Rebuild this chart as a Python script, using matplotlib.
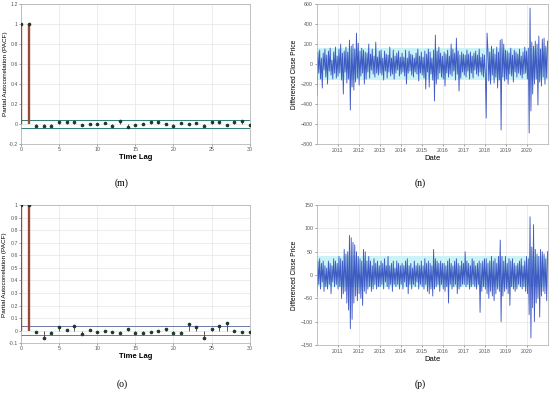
import numpy as np
import pandas as pd
import matplotlib
matplotlib.use('Agg')
import matplotlib.pyplot as plt

# PACF values, lags 0..30
lags = list(range(31))
pacf_m = [1.0, 1.0, -0.02, -0.02, -0.015, 0.02, 0.02, 0.02, -0.01, 0.005, 0.005,
          0.01, -0.02, 0.03, -0.03, -0.005, 0.005, 0.025, 0.02, 0.005, -0.015,
          0.015, 0.005, 0.01, -0.02, 0.02, 0.025, -0.005, 0.02, 0.03, -0.01]
pacf_o = [1.0, 1.0, -0.01, -0.06, -0.02, 0.03, 0.005, 0.035, -0.03, 0.005, -0.01,
          0.0, -0.01, -0.02, 0.015, -0.02, -0.02, -0.01, -0.005, 0.015, -0.015,
          -0.015, 0.055, 0.03, -0.055, 0.01, 0.035, 0.06, -0.005, -0.01, -0.01]
bound_m = 0.042
bound_o = 0.038

# differenced close price, 24 samples per year 2010..2020
diff_n = [
    -320, 120, -90, 140, -150, 60, -240, 110, -60, 150, -130, 90, -200, 130, -70, 160, -110, 40, -150, 120, -90, 170, -140, 80,
    -120, 150, -90, 200, -160, 110, -300, 130, -80, 170, -190, 120, -150, 240, -460, 180, -230, 200, -260, 150, -180, 310, -140, 210,
    -210, 130, -120, 160, -90, 140, -200, 120, -150, 110, -80, 200, -140, 100, -60, 150, -100, 80, -130, 220, -90, 70, -110, 130,
    -90, 140, -110, 60, -160, 130, -70, 100, -140, 90, -80, 170, -120, 60, -100, 140, -150, 80, -90, 110, -60, 130, -120, 70,
    -100, 110, -80, 70, -120, 140, -200, 60, -90, 130, -70, 100, -110, 90, -130, 60, -80, 110, -100, 150, -170, 80, -90, 120,
    -110, 70, -140, 130, -250, 100, -80, 150, -230, 120, -100, 60, -160, 140, -370, 290, -200, 130, -150, 170, -90, 110, -130, 80,
    -150, 120, -220, 100, -90, 140, -130, 80, -100, 200, -120, 150, -70, 110, -160, 260, -100, 130, -270, 90, -140, 120, -80, 100,
    -110, 90, -130, 140, -70, 100, -150, 120, -90, 80, -140, 110, -60, 130, -100, 90, -120, 150, -80, 70, -110, 100, -130, 90,
    -90, -540, 310, 140, -170, 120, -200, 180, -110, 150, -190, 100, -130, 170, -240, 120, -160, 240, -660, 250, -130, 200, -170, 140,
    -150, 130, -200, 110, -100, 160, -120, 90, -180, 140, -80, 120, -130, 100, -90, 150, -110, 80, -140, 120, -100, 170, -90, 130,
    -150, 160, -690, 560, -470, 220, -300, 180, -200, 230, -150, 200, -410, 280, -180, 150, -220, 250, -130, 260, -200, 180, -140, 230,
]
diff_p = [
    -45, 30, -20, 35, -30, 25, -15, 30, -35, 20, -25, 15, -30, 30, -20, 25, -40, 20, -15, 35, -25, 30, -20, 25,
    -30, 40, -25, 35, -50, 30, -40, 55, -35, 45, -60, 50, -75, 85, -115, 80, -95, 70, -60, 65, -45, 50, -55, 40,
    -40, 35, -50, 30, -65, 55, -35, 50, -40, 30, -30, 40, -25, 30, -35, 20, -30, 35, -20, 25, -30, 30, -25, 20,
    -25, 30, -20, 25, -30, 35, -15, 20, -25, 40, -30, 20, -20, 25, -35, 30, -20, 15, -25, 30, -20, 25, -30, 20,
    -20, 25, -30, 20, -15, 30, -25, 35, -40, 20, -20, 25, -30, 15, -20, 30, -25, 20, -15, 25, -30, 20, -20, 30,
    -25, 20, -30, 35, -20, 25, -35, 30, -40, 25, -30, 20, -45, 55, -30, 35, -25, 30, -20, 25, -35, 30, -20, 25,
    -30, 25, -35, 20, -25, 30, -60, 35, -20, 25, -30, 20, -25, 30, -20, 35, -40, 25, -30, 20, -25, 30, -20, 25,
    -20, 50, -25, 30, -20, 25, -30, 20, -25, 35, -20, 30, -25, 20, -30, 25, -20, 30, -80, 25, -35, 30, -25, 35,
    -30, 35, -40, 25, -50, 30, -35, 40, -45, 30, -55, 35, -40, 25, -30, 40, -35, 75, -100, 40, -45, 30, -35, 40,
    -30, 25, -40, 35, -65, 30, -25, 35, -30, 25, -35, 20, -30, 25, -20, 30, -25, 35, -30, 20, -25, 30, -35, 40,
    -40, 35, -85, 125, -135, 60, -70, 108, -100, 55, -60, 45, -50, 40, -90, 55, -45, 50, -35, 45, -40, 35, -55, 50,
]
band_n = (-155, 165)
band_p = (-25, 40)
years = list(range(2011, 2021))

plt.rcParams['font.family'] = ['Liberation Sans', 'DejaVu Sans']
fig = plt.figure(figsize=(5.5, 3.94), dpi=100)

def pacf_axes(rect, vals, bound, ylim, yticks, bcol):
    ax = fig.add_axes(rect)
    ax.axhline(bound, color=bcol, lw=0.7, zorder=1)
    ax.axhline(-bound, color=bcol, lw=0.7, zorder=1)
    ax.vlines(lags[:2], 0, vals[:2], color='#9a4a38', lw=1.7, zorder=3)
    ax.vlines(lags[2:], 0, vals[2:], color='#4a3a30', lw=0.6, zorder=3)
    ax.plot(lags, vals, 'o', ms=1.6, color='#1f3a2a', zorder=4)
    ax.set_xlim(0, 30)
    ax.set_ylim(*ylim)
    ax.set_xticks(range(0, 31, 5))
    ax.set_yticks(yticks)
    ax.set_yticklabels([('%g' % t) for t in yticks])
    ax.grid(True, color='#e4e4e4', lw=0.5)
    ax.set_axisbelow(True)
    ax.tick_params(labelsize=3.8, length=1.2, width=0.4, colors='#555555', pad=1)
    for s in ax.spines.values():
        s.set_color('#aaaaaa')
        s.set_linewidth(0.5)
    ax.set_xlabel('Time Lag', fontsize=5.5, fontweight='bold', labelpad=1.5)
    ax.set_ylabel('Partial Autocorrelation (PACF)', fontsize=4.6, labelpad=0.8)
    return ax

def series_axes(rect, vals, band, ylim, yticks):
    ax = fig.add_axes(rect)
    dates = pd.date_range('2010-01-05', '2020-12-28', periods=len(vals))
    ax.fill_between([pd.Timestamp('2010-01-01'), pd.Timestamp('2021-01-01')],
                    band[0], band[1], color='#c9f3f6', lw=0, zorder=1)
    ax.plot(dates, vals, color='#2f4bbd', lw=0.65, alpha=0.9, zorder=2)
    ax.set_xlim(pd.Timestamp('2010-01-01'), pd.Timestamp('2021-01-01'))
    ax.set_ylim(*ylim)
    ax.set_xticks([pd.Timestamp('%d-01-01' % y) for y in years])
    ax.set_xticklabels([str(y) for y in years])
    ax.set_yticks(yticks)
    ax.grid(True, color='#e4e4e4', lw=0.5)
    ax.set_axisbelow(True)
    ax.tick_params(labelsize=3.8, length=1.2, width=0.4, colors='#555555', pad=1.5)
    for s in ax.spines.values():
        s.set_color('#aaaaaa')
        s.set_linewidth(0.5)
    ax.set_xlabel('Date', fontsize=5.5, labelpad=1.5)
    ax.set_ylabel('Differenced Close Price', fontsize=4.8, labelpad=2)
    return ax

pacf_axes([0.038, 0.6345, 0.416, 0.355], pacf_m, bound_m, (-0.2, 1.2),
          [-0.2, 0, 0.2, 0.4, 0.6, 0.8, 1, 1.2], '#2e7f7a')
series_axes([0.576, 0.6345, 0.42, 0.355], diff_n, band_n, (-800, 600),
            list(range(-800, 601, 200)))
pacf_axes([0.038, 0.129, 0.416, 0.350], pacf_o, bound_o, (-0.1, 1.0),
          [-0.1, 0, 0.1, 0.2, 0.3, 0.4, 0.5, 0.6, 0.7, 0.8, 0.9, 1], '#6a78a8')
series_axes([0.576, 0.1244, 0.42, 0.355], diff_p, band_p, (-150, 150),
            list(range(-150, 151, 50)))

for lab, x, y in [('(m)', 122, 183), ('(n)', 420, 183), ('(o)', 122, 384), ('(p)', 420, 384)]:
    fig.text(x / 550, 1 - y / 394, lab, ha='center', va='center', fontsize=7,
             family='Liberation Serif')

fig.savefig('out.png', dpi=100)
